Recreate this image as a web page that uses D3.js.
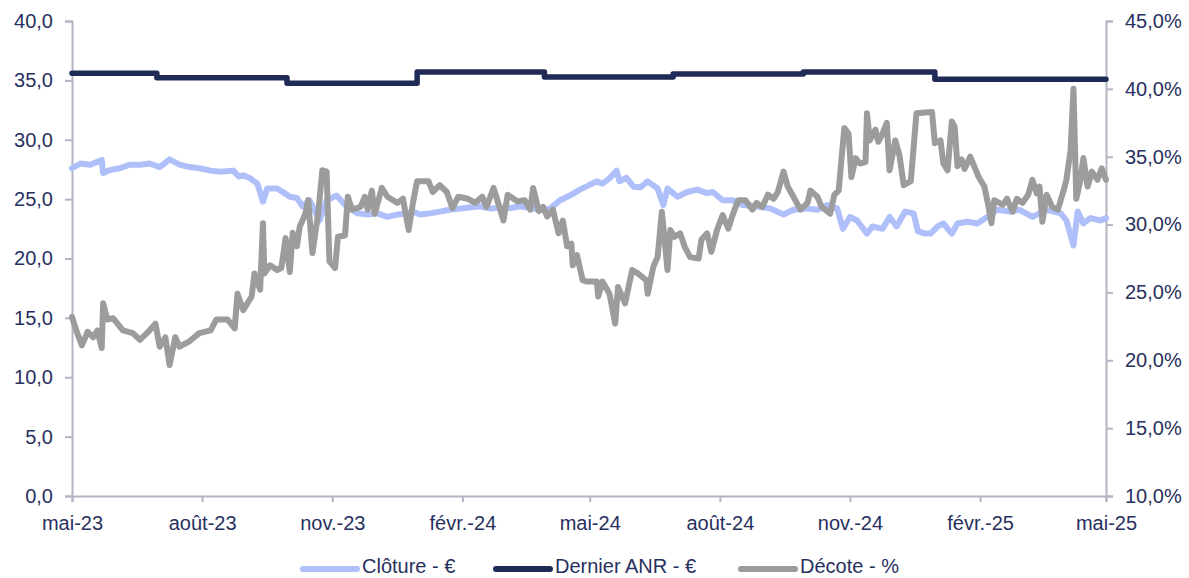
<!DOCTYPE html>
<html>
<head>
<meta charset="utf-8">
<script src="https://cdn.jsdelivr.net/npm/d3@7"></script>
<style>
  html, body { margin: 0; padding: 0; background: #fff; }
  svg text { font-family: "Liberation Sans", Arial, sans-serif; fill: #27305e; }
</style>
</head>
<body>
<div id="chart"></div>
<script>
// x values are days since 1 May 2023
const startDate = new Date(2023, 4, 1);
const endDate = new Date(2025, 4, 1);

const tickDates = ["2023-05-01", "2023-08-01", "2023-11-01", "2024-02-01", "2024-05-01",
  "2024-08-01", "2024-11-01", "2025-02-01", "2025-05-01"];
const tickLabels = ["mai-23", "août-23", "nov.-23", "févr.-24", "mai-24",
  "août-24", "nov.-24", "févr.-25", "mai-25"];

const leftTicks = [0, 5, 10, 15, 20, 25, 30, 35, 40];
const rightTicks = [10, 15, 20, 25, 30, 35, 40, 45];

// Clôture - € (left axis)
const cloture = [
  [0, 27.6], [6, 28.0], [13, 27.9], [21, 28.3], [22, 27.2], [27, 27.45], [34, 27.6], [41, 27.9],
  [48, 27.9], [55, 28.0], [62, 27.7], [69, 28.35], [76, 27.9], [83, 27.7], [90, 27.6], [98, 27.4],
  [105, 27.3], [114, 27.4], [118, 26.9], [121, 27.0], [126, 26.75], [131, 26.3], [135, 24.8],
  [138, 25.9], [145, 25.9], [149, 25.6], [154, 25.2], [159, 25.1], [163, 24.4], [168, 24.9],
  [175, 23.2], [180, 24.9], [187, 25.3], [194, 24.4], [202, 23.8], [209, 23.7], [216, 23.8],
  [223, 23.5], [230, 23.7], [237, 23.8], [241, 23.95], [246, 23.7], [253, 23.8], [260, 23.95],
  [267, 24.1], [274, 24.2], [281, 24.3], [288, 24.4], [296, 24.2], [303, 24.3], [310, 24.25],
  [317, 24.4], [324, 24.25], [331, 24.1], [338, 24.2], [345, 24.9], [352, 25.3], [359, 25.8],
  [366, 26.2], [371, 26.5], [375, 26.3], [380, 26.75], [385, 27.4], [387, 26.5], [392, 26.8],
  [397, 26.05], [402, 26.0], [407, 26.5], [414, 25.9], [418, 24.5], [421, 25.9], [428, 25.2],
  [435, 25.6], [442, 25.8], [449, 25.5], [453, 25.6], [460, 24.9], [467, 24.9], [474, 24.5],
  [480, 24.45], [494, 24.2], [503, 23.7], [510, 24.1], [520, 24.2], [527, 24.1], [534, 24.5],
  [541, 24.2], [545, 22.5], [550, 23.5], [555, 23.2], [562, 22.1], [566, 22.7], [573, 22.5],
  [578, 23.5], [583, 22.7], [589, 23.95], [595, 23.8], [598, 22.3], [603, 22.1], [607, 22.1],
  [612, 22.7], [616, 22.95], [622, 22.1], [626, 22.95], [633, 23.1], [640, 22.95], [647, 23.5],
  [654, 24.1], [663, 23.95], [670, 24.1], [679, 23.5], [689, 24.1], [699, 23.8], [703, 23.2],
  [708, 21.1], [711, 23.95], [715, 22.95], [720, 23.4], [727, 23.2], [731, 23.4]
];

// Dernier ANR - € (left axis, stepped)
const anr = [
  [0, 35.6], [60, 35.22], [152, 34.75], [244, 35.7], [334, 35.28],
  [425, 35.54], [517, 35.7], [610, 35.1], [731, 35.1]
];

// Décote - % (right axis)
const decote = [
  [0, 23.2], [3, 22.2], [7, 21.1], [11, 22.1], [15, 21.7], [18, 22.2], [21, 20.9], [22, 24.2],
  [25, 23.0], [29, 23.1], [36, 22.2], [43, 22.0], [48, 21.5], [53, 22.0], [59, 22.7], [62, 21.0],
  [66, 21.7], [69, 19.65], [73, 21.7], [76, 21.0], [83, 21.4], [90, 22.0], [98, 22.2], [102, 23.0],
  [110, 23.0], [115, 22.35], [117, 24.9], [121, 23.7], [124, 24.2], [127, 24.7], [129, 26.4],
  [133, 25.2], [135, 30.1], [136, 26.4], [140, 27.0], [145, 26.65], [148, 26.8], [151, 29.0],
  [154, 26.5], [156, 29.4], [159, 28.4], [161, 29.85], [165, 30.8], [167, 31.8], [170, 27.9],
  [172, 29.35], [174, 30.8], [177, 34.0], [180, 33.9], [182, 27.3], [186, 26.8], [188, 29.1],
  [193, 29.2], [195, 32.05], [198, 31.1], [204, 31.3], [207, 32.05], [209, 31.1], [212, 32.5],
  [214, 30.8], [219, 32.7], [223, 32.05], [230, 31.6], [234, 31.9], [238, 29.6], [241, 31.6],
  [244, 33.2], [252, 33.2], [255, 32.4], [260, 32.9], [265, 32.4], [269, 31.2], [273, 32.05],
  [280, 31.9], [285, 31.6], [290, 32.05], [293, 31.3], [298, 32.7], [301, 31.7], [305, 30.3],
  [308, 32.2], [315, 31.7], [320, 31.8], [324, 31.1], [326, 32.7], [330, 31.0], [333, 31.3],
  [336, 30.6], [340, 31.1], [344, 29.35], [347, 30.3], [350, 28.4], [353, 28.6], [354, 27.0],
  [357, 27.75], [361, 25.9], [364, 25.8], [371, 25.8], [372, 24.7], [375, 25.8], [380, 24.9],
  [384, 22.7], [386, 25.4], [391, 24.2], [396, 26.65], [400, 26.4], [406, 25.9], [407, 24.9],
  [411, 26.9], [414, 27.6], [417, 30.95], [421, 26.65], [423, 29.6], [426, 29.1], [430, 29.35],
  [433, 28.4], [437, 27.6], [443, 27.5], [445, 28.9], [449, 29.35], [452, 28.0], [456, 29.6],
  [460, 30.7], [464, 29.7], [467, 30.7], [471, 31.8], [476, 31.8], [481, 31.1], [484, 31.6],
  [488, 31.3], [492, 32.2], [496, 31.9], [499, 32.4], [503, 33.9], [506, 32.8], [510, 32.05],
  [515, 31.1], [520, 31.6], [522, 32.5], [527, 32.05], [530, 31.3], [536, 30.8], [539, 32.2],
  [542, 32.5], [546, 37.1], [549, 36.7], [551, 33.5], [554, 34.9], [557, 34.5], [561, 34.6],
  [562, 38.2], [564, 36.2], [568, 37.0], [570, 36.1], [573, 36.7], [576, 37.5], [578, 34.0],
  [582, 36.2], [585, 35.1], [588, 32.9], [593, 33.2], [597, 38.2], [608, 38.3], [610, 36.0],
  [614, 36.2], [616, 34.5], [619, 34.0], [622, 37.6], [624, 37.2], [626, 34.3], [629, 34.8],
  [631, 34.1], [635, 35.0], [637, 34.5], [641, 33.5], [645, 32.8], [648, 31.3], [650, 30.1],
  [652, 31.8], [658, 31.45], [661, 31.9], [665, 30.95], [668, 31.9], [672, 31.6], [676, 32.2],
  [679, 33.3], [682, 32.3], [684, 32.8], [686, 30.2], [689, 32.2], [693, 31.3], [697, 31.1],
  [701, 32.5], [703, 33.3], [706, 35.5], [708, 40.0], [710, 31.9], [713, 33.3], [715, 34.9],
  [718, 32.8], [721, 33.9], [725, 33.3], [728, 34.15], [731, 33.3]
];

const seriesNames = ["Clôture - €", "Dernier ANR - €", "Décote - %"];
const seriesColors = ["#afbffa", "#1f2a56", "#9c9c9c"];

const width = 1189, height = 578;
const margin = { top: 21, right: 83, bottom: 82, left: 72 };

const svg = d3.select("#chart").append("svg")
  .attr("width", width)
  .attr("height", height);

const x = d3.scaleTime()
  .domain([startDate, endDate])
  .range([margin.left, width - margin.right]);

const yLeft = d3.scaleLinear()
  .domain([0, 40])
  .range([height - margin.bottom, margin.top]);

const yRight = d3.scaleLinear()
  .domain([10, 45])
  .range([height - margin.bottom, margin.top]);

const toDate = d => d3.timeDay.offset(startDate, d);
const fmtNum = d3.format(".1f");
const comma = s => s.replace(".", ",");

const axisColor = "#b3b5c4";

// axes
const gx = svg.append("g")
  .attr("transform", `translate(0,${height - margin.bottom})`)
  .call(d3.axisBottom(x)
    .tickValues(tickDates.map(d => d3.timeParse("%Y-%m-%d")(d)))
    .tickFormat((d, i) => tickLabels[i])
    .tickSizeOuter(0)
    .tickSize(6)
    .tickPadding(10));

const gl = svg.append("g")
  .attr("transform", `translate(${margin.left},0)`)
  .call(d3.axisLeft(yLeft)
    .tickValues(leftTicks)
    .tickFormat(d => comma(fmtNum(d)))
    .tickSizeOuter(0)
    .tickSize(7)
    .tickPadding(12));

const gr = svg.append("g")
  .attr("transform", `translate(${width - margin.right},0)`)
  .call(d3.axisRight(yRight)
    .tickValues(rightTicks)
    .tickFormat(d => comma(fmtNum(d)) + "%")
    .tickSizeOuter(0)
    .tickSize(7)
    .tickPadding(12));

[gx, gl, gr].forEach(g => {
  g.selectAll(".domain").attr("stroke", axisColor).attr("stroke-width", 2);
  g.selectAll(".tick line").attr("stroke", axisColor).attr("stroke-width", 2);
  g.selectAll(".tick text")
    .attr("fill", "#27305e")
    .style("font-size", "20px")
    .style("font-family", "'Liberation Sans', Arial, sans-serif");
});
gx.selectAll(".tick text").attr("dy", "0.9em");

// lines
const lineLeft = d3.line()
  .x(d => x(toDate(d[0])))
  .y(d => yLeft(d[1]));

const lineStep = d3.line()
  .x(d => x(toDate(d[0])))
  .y(d => yLeft(d[1]))
  .curve(d3.curveStepAfter);

const lineRight = d3.line()
  .x(d => x(toDate(d[0])))
  .y(d => yRight(d[1]));

svg.append("path")
  .datum(cloture)
  .attr("d", lineLeft)
  .attr("fill", "none")
  .attr("stroke", seriesColors[0])
  .attr("stroke-width", 6)
  .attr("stroke-linejoin", "round")
  .attr("stroke-linecap", "round");

svg.append("path")
  .datum(anr)
  .attr("d", lineStep)
  .attr("fill", "none")
  .attr("stroke", seriesColors[1])
  .attr("stroke-width", 5.5)
  .attr("stroke-linejoin", "round")
  .attr("stroke-linecap", "round");

svg.append("path")
  .datum(decote)
  .attr("d", lineRight)
  .attr("fill", "none")
  .attr("stroke", seriesColors[2])
  .attr("stroke-width", 6)
  .attr("stroke-linejoin", "round")
  .attr("stroke-linecap", "round");

// legend
const legendX = [300, 493, 738];
const legend = svg.append("g").attr("transform", "translate(0,569)");
seriesNames.forEach((name, i) => {
  legend.append("line")
    .attr("x1", legendX[i] + 3)
    .attr("x2", legendX[i] + 57)
    .attr("stroke", seriesColors[i])
    .attr("stroke-width", 6)
    .attr("stroke-linecap", "round");
  legend.append("text")
    .attr("x", legendX[i] + 62)
    .attr("y", 4)
    .style("font-size", "20px")
    .text(name);
});
</script>
</body>
</html>
